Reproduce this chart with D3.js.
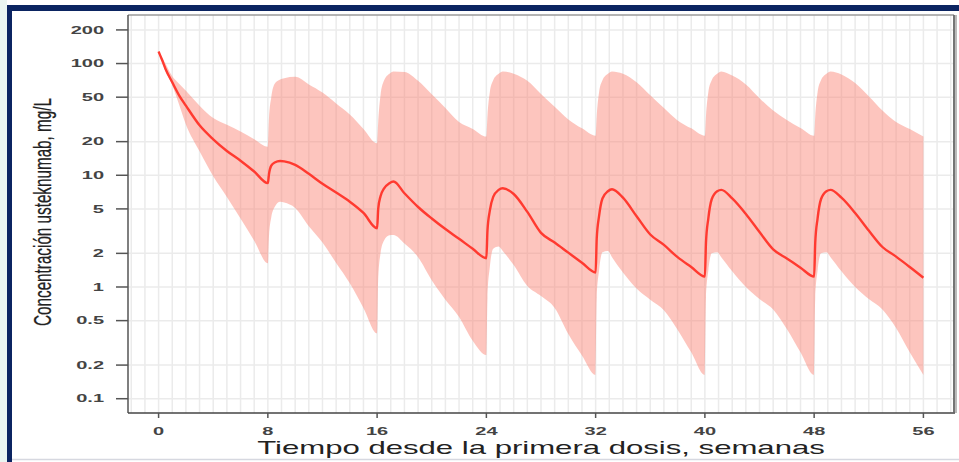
<!DOCTYPE html>
<html>
<head>
<meta charset="utf-8">
<script src="https://cdn.jsdelivr.net/npm/d3@7"></script>
<style>
  html, body { margin: 0; padding: 0; background: #fff; }
  svg { display: block; font-family: "Liberation Sans", Arial, sans-serif; }
</style>
</head>
<body>
<svg id="chart" width="959" height="462"></svg>
<script>
// weeks since first dose (dose every 8 weeks)
var weeks = [
  0, 0.25, 0.5, 1, 1.5, 2, 3, 4, 5, 6, 7,
  8, 8.08, 8.25, 8.5, 8.9, 9.2, 10, 11, 12, 13, 14, 15,
  16, 16.08, 16.25, 16.5, 16.9, 17.2, 18, 19, 20, 21, 22, 23,
  24, 24.08, 24.25, 24.5, 24.9, 25.2, 26, 27, 28, 29, 30, 31,
  32, 32.08, 32.25, 32.5, 32.9, 33.2, 34, 35, 36, 37, 38, 39,
  40, 40.08, 40.25, 40.5, 40.9, 41.2, 42, 43, 44, 45, 46, 47,
  48, 48.08, 48.25, 48.5, 48.9, 49.2, 50, 51, 52, 53, 54, 55,
  56
];
// median concentration, mg/L
var median = [
  128, 108, 90, 68, 52, 42, 28, 21, 16.5, 13.5, 10.8,
  8.5, 10.2, 12.2, 13.0, 13.4, 13.3, 12.4, 10.3, 8.4, 7.0, 5.8, 4.6,
  3.35, 5.0, 6.5, 7.6, 8.5, 8.8, 6.9, 5.2, 4.1, 3.3, 2.7, 2.2,
  1.81, 3.2, 4.8, 6.4, 7.4, 7.65, 6.8, 4.7, 3.05, 2.5, 2.03, 1.65,
  1.35, 2.7, 4.3, 6.2, 7.2, 7.5, 6.3, 4.3, 2.95, 2.38, 1.85, 1.51,
  1.24, 2.5, 4.1, 6.1, 7.2, 7.4, 6.2, 4.5, 3.1, 2.17, 1.8, 1.49,
  1.24, 2.5, 4.1, 6.1, 7.2, 7.4, 6.3, 4.6, 3.2, 2.28, 1.87, 1.51,
  1.21
];
// upper limit of the band
var upper = [
  128, 114, 100, 77, 66, 57, 42, 32.6, 28.3, 24.6, 21,
  18, 32, 50, 66, 72, 74, 76, 65, 55, 44, 35, 26,
  19.3, 30, 52, 70, 81, 85, 84, 70, 53, 40, 30, 26,
  22.2, 34, 55, 71, 81, 85, 81, 70, 53.5, 41, 31.6, 26.3,
  22.6, 34, 55, 71, 81, 85, 81, 68, 52, 40, 31, 26.3,
  22.6, 34, 55, 71, 81, 85, 78, 65, 49, 38, 31.3, 26.5,
  22.6, 34, 55, 71, 81, 85, 80, 67, 51, 38, 30, 25.9,
  22.2
];
// lower limit of the band
var lower = [
  128, 104, 86, 64, 43, 28.5, 16.4, 9.8, 6.4, 4.1, 2.6,
  1.63, 2.8, 4.2, 5.2, 5.8, 5.7, 5.1, 3.5, 2.5, 1.64, 1.08, 0.65,
  0.385, 1.2, 2.0, 2.6, 2.9, 2.92, 2.45, 1.85, 1.15, 0.77, 0.54, 0.33,
  0.246, 0.8, 1.5, 2.2, 2.3, 2.1, 1.57, 1.02, 0.83, 0.65, 0.38, 0.244,
  0.163, 0.8, 1.4, 2.05, 2.1, 1.85, 1.35, 0.97, 0.77, 0.62, 0.415, 0.26,
  0.163, 0.8, 1.4, 2.0, 2.05, 1.85, 1.38, 1.0, 0.78, 0.63, 0.42, 0.26,
  0.163, 0.8, 1.4, 2.0, 2.05, 1.85, 1.38, 1.0, 0.78, 0.63, 0.43, 0.26,
  0.163
];
var xTicks = [0, 8, 16, 24, 32, 40, 48, 56];
var yTicks = [0.1, 0.2, 0.5, 1, 2, 5, 10, 20, 50, 100, 200];
var yTickLabels = ["0.1", "0.2", "0.5", "1", "2", "5", "10", "20", "50", "100", "200"];
var xTitle = "Tiempo desde la primera dosis, semanas";
var yTitle = "Concentración usteknumab, mg/L";

var svg = d3.select("#chart");
var panel = {left: 128, right: 954, top: 15, bottom: 413};

var x = d3.scaleLinear().domain([-2.24, 58.24]).range([panel.left, panel.right]);
var y = d3.scaleLog().domain([0.0745, 272]).range([panel.bottom, panel.top]);

// slide frame
svg.append("rect").attr("x", 0).attr("y", 0).attr("width", 7).attr("height", 462).attr("fill", "#eaf5f1");
svg.append("rect").attr("x", 7).attr("y", 5).attr("width", 952).attr("height", 6).attr("fill", "#0b2461");
svg.append("rect").attr("x", 7).attr("y", 5).attr("width", 5).attr("height", 457).attr("fill", "#0b2461");
svg.append("line").attr("x1", 12).attr("x2", 959).attr("y1", 459.5).attr("y2", 459.5)
  .attr("stroke", "#d6d8e0").attr("stroke-width", 1.5);

// grid
var gridWeeks = d3.range(-2, 59);
svg.append("g").selectAll("line").data(gridWeeks).join("line")
  .attr("x1", function(d) { return x(d); }).attr("x2", function(d) { return x(d); })
  .attr("y1", panel.top).attr("y2", panel.bottom)
  .attr("stroke", "#ebebeb").attr("stroke-width", 1.5);
svg.append("g").selectAll("line").data(yTicks).join("line")
  .attr("x1", panel.left).attr("x2", panel.right)
  .attr("y1", function(d) { return y(d); }).attr("y2", function(d) { return y(d); })
  .attr("stroke", "#ebebeb").attr("stroke-width", 1.5);

var rows = weeks.map(function(t, i) {
  return {t: t, m: median[i], lo: lower[i], hi: upper[i]};
});

// band
var area = d3.area()
  .x(function(d) { return x(d.t); })
  .y0(function(d) { return y(d.lo); })
  .y1(function(d) { return y(d.hi); })
  .curve(d3.curveMonotoneX);
svg.append("path").datum(rows).attr("d", area)
  .attr("fill", "#fa8072").attr("fill-opacity", 0.46);

// median line
var line = d3.line()
  .x(function(d) { return x(d.t); })
  .y(function(d) { return y(d.m); })
  .curve(d3.curveMonotoneX);
svg.append("path").datum(rows).attr("d", line)
  .attr("fill", "none").attr("stroke", "#ff3a30").attr("stroke-width", 2.4)
  .attr("stroke-linejoin", "round");

// panel box
svg.append("line").attr("x1", panel.left).attr("x2", panel.right)
  .attr("y1", panel.top).attr("y2", panel.top).attr("stroke", "#9a9a9a").attr("stroke-width", 1.5);
svg.append("line").attr("x1", panel.left).attr("x2", panel.left)
  .attr("y1", panel.top).attr("y2", panel.bottom).attr("stroke", "#555").attr("stroke-width", 1.5);
svg.append("line").attr("x1", panel.left).attr("x2", panel.right + 1)
  .attr("y1", panel.bottom).attr("y2", panel.bottom).attr("stroke", "#444").attr("stroke-width", 1.5);
svg.append("line").attr("x1", panel.right + 2).attr("x2", panel.right + 2)
  .attr("y1", panel.top).attr("y2", panel.bottom).attr("stroke", "#bbb").attr("stroke-width", 2);
svg.append("line").attr("x1", panel.right).attr("x2", panel.right)
  .attr("y1", panel.top).attr("y2", panel.bottom).attr("stroke", "#666").attr("stroke-width", 1.8);

// y axis
var yAxis = svg.append("g");
yAxis.selectAll("line").data(yTicks).join("line")
  .attr("x1", 116).attr("x2", panel.left)
  .attr("y1", function(d) { return y(d); }).attr("y2", function(d) { return y(d); })
  .attr("stroke", "#555").attr("stroke-width", 1.5);
yAxis.selectAll("g").data(yTicks).join("g")
  .attr("transform", function(d) { return "translate(104," + y(d) + ") scale(2,1)"; })
  .append("text")
  .attr("text-anchor", "end").attr("dy", "0.36em")
  .attr("font-size", 10).attr("font-weight", "bold").attr("fill", "#444")
  .text(function(d, i) { return yTickLabels[i]; });

// x axis
var xAxis = svg.append("g");
xAxis.selectAll("line").data(xTicks).join("line")
  .attr("x1", function(d) { return x(d); }).attr("x2", function(d) { return x(d); })
  .attr("y1", panel.bottom).attr("y2", panel.bottom + 5)
  .attr("stroke", "#555").attr("stroke-width", 1.5);
xAxis.selectAll("g").data(xTicks).join("g")
  .attr("transform", function(d) { return "translate(" + x(d) + ",435) scale(2,1)"; })
  .append("text")
  .attr("text-anchor", "middle")
  .attr("font-size", 10).attr("font-weight", "bold").attr("fill", "#444")
  .text(function(d) { return d; });

// titles, squeezed/stretched like the source image
function fitText(g, str, size, target) {
  var t = g.append("text")
    .attr("text-anchor", "middle").attr("font-size", size).attr("fill", "#222")
    .text(str);
  var w = t.node().getComputedTextLength();
  return target / w;
}
var xg = svg.append("g");
var sx = fitText(xg, xTitle, 18, 568);
xg.attr("transform", "translate(541,454) scale(" + sx + ",1)");

var yg = svg.append("g");
var sy = fitText(yg, yTitle, 24, 228);
yg.attr("transform", "translate(51,212) rotate(-90) scale(" + sy + ",1)");
yg.select("text").attr("stroke", "#222").attr("stroke-width", 0.25);
</script>
</body>
</html>
